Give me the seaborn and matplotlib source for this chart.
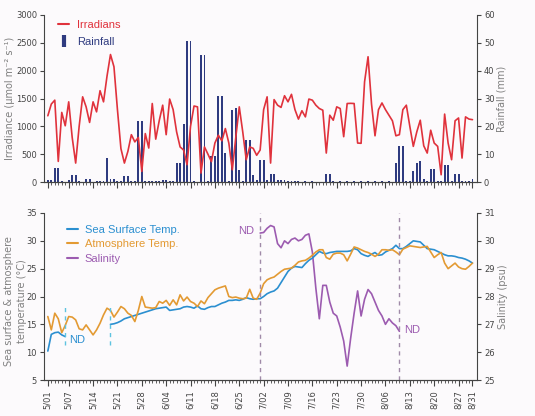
import numpy as np
import pandas as pd
import matplotlib
matplotlib.use('Agg')
import matplotlib.pyplot as plt
import seaborn as sns
from matplotlib.lines import Line2D

# day index 0 = 5/01 ... 122 = 8/31
irradiance = [1190, 1400, 1470, 370, 1250, 1010, 1440, 800, 340, 1000,
              1530, 1350, 1070, 1440, 1260, 1640, 1440, 1900, 2290, 2070,
              1300, 600, 340, 550, 850, 720, 800, 190, 870, 610,
              1410, 770, 1100, 1380, 850, 1490, 1300, 900, 630, 575,
              310, 1000, 1365, 1350, 160, 630, 500, 365, 700, 840,
              740, 960, 700, 220, 800, 1350, 900, 400, 630, 605,
              480, 575, 1300, 1530, 340, 1480, 1380, 1340, 1550, 1440,
              1575, 1300, 1130, 1280, 1170, 1490, 1470, 1380, 1320, 1290,
              520, 1200, 1110, 1350, 1320, 814, 1410, 1413, 1410, 700,
              695, 1800, 2250, 1400, 830, 1300, 1420, 1300, 1200, 1100,
              830, 850, 1300, 1380, 1000, 640, 900, 1110, 650, 520,
              930, 700, 640, 130, 1220, 700, 400, 1100, 1150, 430,
              1170, 1130, 1120]

rainfall = [0.8, 0.8, 5.0, 5.0, 0.5, 0, 0.8, 2.5, 2.5, 0.5,
            0, 1.0, 1.0, 0, 0.3, 0.3, 0.3, 8.5, 1.2, 1.2,
            0.3, 0.5, 2.0, 2.0, 0.3, 0.3, 21.8, 21.8, 0.3, 0.3,
            0.3, 0.3, 0.3, 0.8, 0.8, 0.3, 0.3, 6.8, 6.8, 21.0,
            50.5, 50.5, 0.3, 0, 45.5, 45.5, 0.3, 9.2, 9.2, 31.0,
            31.0, 10.5, 0.3, 26.0, 26.5, 4.3, 0.3, 15.2, 15.2, 2.5,
            0.7, 7.8, 7.8, 0.7, 2.9, 2.9, 0.8, 0.8, 0.6, 0.4,
            0.3, 0.2, 0.2, 0, 0.2, 0, 0.2, 0, 0, 0,
            2.9, 2.9, 0.2, 0, 0.2, 0, 0.2, 0, 0.2, 0,
            0.2, 0, 0.2, 0, 0.2, 0, 0.2, 0, 0.2, 0,
            6.8, 12.8, 12.8, 0.3, 0.3, 3.8, 7.0, 7.7, 0.9, 0.3,
            4.6, 4.6, 0.2, 0.3, 6.0, 6.0, 0.3, 2.7, 2.7, 0.2,
            0.2, 0.2, 1.1]

nan = np.nan
sst = [10.2, 13.2, 13.5, 13.6, 13.1, 12.8, nan, nan, nan, nan,
       nan, nan, nan, nan, nan, nan, nan, nan, 15.0, 15.1,
       15.3, 15.6, 16.0, 16.2, 16.4, 16.6, 16.8, 17.0, 17.2, 17.4,
       17.6, 17.8, 17.9, 18.0, 18.1, 17.5, 17.6, 17.7, 17.8, 18.1,
       18.2, 18.1, 17.9, 18.3, 17.8, 17.7, 18.0, 18.2, 18.2, 18.5,
       18.8, 19.0, 19.3, 19.3, 19.4, 19.3, 19.5, 19.8, 19.6, 19.5,
       19.6, 19.6, 20.0, 20.5, 20.8, 21.0, 21.5, 22.5, 23.5, 24.5,
       25.1, 25.4, 25.3, 25.2, 25.9, 26.5, 26.9, 27.5, 28.1, 27.8,
       27.7, 27.9, 28.0, 28.1, 28.1, 28.1, 28.1, 28.2, 28.6, 28.4,
       27.7, 27.4, 27.2, 27.6, 27.9, 27.4, 27.5, 28.0, 28.3, 28.6,
       29.2, 28.6, 28.6, 29.0, 29.5, 30.0, 29.9, 29.8, 29.2, 28.6,
       28.5, 28.4, 28.1, 27.8, 27.5, 27.3, 27.3, 27.2, 27.0, 26.9,
       26.7, 26.4, 26.0]

air_temp = [16.4, 14.0, 17.0, 16.0, 13.5, 14.8, 16.4, 16.3, 15.8, 14.2,
            14.0, 14.9, 14.0, 13.1, 14.0, 15.2, 16.7, 17.9, 17.5, 16.3,
            17.2, 18.2, 17.8, 17.0, 16.6, 15.5, 17.5, 20.0, 18.1, 18.0,
            17.9, 18.0, 19.1, 18.8, 19.3, 18.4, 19.4, 18.5, 20.3, 19.2,
            19.9, 19.1, 18.8, 18.2, 19.2, 18.7, 19.8, 20.5, 21.2, 21.5,
            21.7, 21.9, 20.0, 19.8, 19.9, 19.7, 19.6, 19.7, 21.3, 19.7,
            19.5, 20.6, 22.3, 23.0, 23.3, 23.5, 24.0, 24.5, 24.9, 25.0,
            25.1, 25.6, 26.2, 26.4, 26.5, 26.9, 27.4, 28.0, 28.4, 28.4,
            27.0, 26.7, 27.6, 27.8, 27.8, 27.5, 26.4, 27.6, 28.9, 28.7,
            28.4, 28.1, 27.9, 27.6, 27.2, 27.6, 28.4, 28.4, 28.3, 28.4,
            28.0, 27.5, 28.5, 28.8, 29.1, 29.0, 28.9, 28.8, 28.9, 29.0,
            28.0, 27.0, 27.5, 27.9, 26.0, 25.0, 25.5, 26.0, 25.3, 25.0,
            24.9, 25.4, 26.0]

# salinity measured 7/01 - 8/10 (day 61 - 101)
salinity_days = list(range(61, 102))
salinity = [30.28, 30.3, 30.45, 30.55, 30.5, 29.9, 29.75, 30.0, 29.9, 30.05,
            30.1, 30.0, 30.05, 30.2, 30.25, 29.6, 28.3, 27.2, 28.4, 28.4,
            27.8, 27.4, 27.3, 26.9, 26.4, 25.5, 26.5, 27.4, 28.2, 27.3,
            27.9, 28.25, 28.1, 27.8, 27.5, 27.3, 27.0, 27.2, 27.05, 26.95,
            26.75]

tick_labels = ['5/01', '5/07', '5/14', '5/21', '5/28', '6/04', '6/11', '6/18',
               '6/25', '7/02', '7/09', '7/16', '7/23', '7/30', '8/06', '8/13',
               '8/20', '8/27', '8/31']

days = np.arange(len(irradiance))
start = pd.Timestamp('2001-05-01')
tick_pos = [(pd.Timestamp('2001-' + t.replace('/', '-')) - start).days for t in tick_labels]

red = '#e0323c'
navy = '#2f3b80'
blue = '#2b8fd0'
orange = '#e39a33'
purple = '#9c5bb0'
bg = '#fcfafc'

sns.set_style('ticks')
plt.rcParams['font.family'] = ['DejaVu Sans']
plt.rcParams['axes.edgecolor'] = '#444444'
plt.rcParams['xtick.color'] = '#444444'
plt.rcParams['ytick.color'] = '#444444'

fig = plt.figure(figsize=(5.35, 4.16), dpi=100, facecolor=bg)
W, H = 535, 416
ax1 = fig.add_axes([44 / W, 1 - 182 / H, 433 / W, 167 / H])
ax3 = fig.add_axes([44 / W, 1 - 380 / H, 433 / W, 167 / H])
ax2 = ax1.twinx()
ax4 = ax3.twinx()

lab_kw = dict(fontsize=7, color='#808080')
leg_font = dict(family='Liberation Sans', size=8)

# ---- top panel: irradiance + rainfall
sns.barplot(x=days, y=rainfall, native_scale=True, width=0.55, color=navy,
            saturation=1, ax=ax2, errorbar=None, linewidth=0)
sns.lineplot(x=days, y=irradiance, color=red, lw=1.2, ax=ax1)
ax1.set_zorder(ax2.get_zorder() + 1)
ax1.patch.set_visible(False)
ax2.patch.set_facecolor(bg)

ax1.set_ylim(0, 3000)
ax1.set_yticks(range(0, 3001, 500))
ax2.set_ylim(0, 60)
ax2.set_yticks(range(0, 61, 10))
ax1.set_ylabel('Irradiance (μmol m⁻² s⁻¹)', **lab_kw)
ax2.set_ylabel('Rainfall (mm)', **lab_kw)
ax1.yaxis.set_label_coords(-0.066, 0.5)
ax2.yaxis.set_label_coords(1.046, 0.5)

handles = [Line2D([], [], color=red, lw=1.5),
           Line2D([], [], color=navy, marker='|', ms=8, mew=3, ls='None')]
ax1.legend(handles, ['Irradians', 'Rainfall'], loc='upper left',
           bbox_to_anchor=(0.01, 1.03), frameon=False, prop=leg_font,
           labelcolor=[red, navy], handlelength=1.0, handletextpad=0.7,
           labelspacing=0.6)

# ---- bottom panel: temperatures + salinity
ax4.patch.set_facecolor(bg)
ax3.set_zorder(ax4.get_zorder() + 1)
ax3.patch.set_visible(False)

sst_s = pd.Series(sst, index=days)
seg = sst_s.isna().cumsum()[sst_s.notna()]
for _, part in sst_s.dropna().groupby(seg):
    sns.lineplot(x=part.index, y=part.values, color=blue, lw=1.2, ax=ax3)
sns.lineplot(x=days, y=air_temp, color=orange, lw=1.2, ax=ax3)
sns.lineplot(x=salinity_days, y=salinity, color=purple, lw=1.2, ax=ax4)

# ND markers at the gap edges
valid = sst_s.dropna().index.values
cut = np.argmax(np.diff(valid) > 1)
gap_edges = [valid[cut], valid[cut + 1]]
ax3.vlines(gap_edges, 11.2, 18.3, colors='#5ec3e0', linestyles=(0, (3, 3)), lw=1)
for x in [salinity_days[0], salinity_days[-1]]:
    ax3.axvline(x, color='#a08aa8', ls=(0, (3, 3)), lw=1)
nd_font = dict(family='Liberation Sans', fontsize=8)
ax3.text(gap_edges[0] + 1.2, 12.2, 'ND', color=blue, va='center', ha='left', **nd_font)
ax3.text(salinity_days[0] - 1.8, 31.7, 'ND', color=purple, va='center', ha='right', **nd_font)
ax3.text(salinity_days[-1] + 1.5, 13.9, 'ND', color=purple, va='center', ha='left', **nd_font)

ax3.set_ylim(5, 35)
ax3.set_yticks(range(5, 36, 5))
ax4.set_ylim(25, 31)
ax4.set_yticks(range(25, 32))
ax3.set_ylabel('Sea surface & atmosphere\ntemperature (°C)', linespacing=1.3, **lab_kw)
ax4.set_ylabel('Salinity (psu)', **lab_kw)
ax3.yaxis.set_label_coords(-0.04, 0.47)
ax4.yaxis.set_label_coords(1.048, 0.5)

handles = [Line2D([], [], color=c, lw=1.5) for c in (blue, orange, purple)]
ax3.legend(handles, ['Sea Surface Temp.', 'Atmosphere Temp.', 'Salinity'],
           loc='upper left', bbox_to_anchor=(0.03, 0.99), frameon=False,
           prop=leg_font, labelcolor=[blue, orange, purple], handlelength=1.0,
           handletextpad=0.6, labelspacing=0.4)

# ---- shared x styling
for ax in (ax1, ax2, ax3, ax4):
    ax.set_xlim(-1.1, 123.3)
    ax.set_xticks(tick_pos)
    ax.set_xticks(days, minor=True)
    ax.tick_params(axis='x', which='major', length=4, width=0.8)
    ax.tick_params(axis='x', which='minor', length=2, width=0.6)
    ax.tick_params(axis='y', length=3, width=0.8, labelsize=6, pad=2)
    ax.spines['top'].set_visible(False)
    ax.set_xlabel('')
for ax in (ax1, ax2):
    ax.tick_params(axis='x', labelbottom=False)
for ax in (ax1, ax3):
    ax.spines['right'].set_visible(False)
ax3.set_xticklabels(tick_labels, rotation=90, fontsize=6)
ax4.tick_params(axis='x', labelbottom=False)
for ax in (ax2, ax4):
    ax.spines['left'].set_visible(False)

fig.savefig('out.png', dpi=100, facecolor=bg)
